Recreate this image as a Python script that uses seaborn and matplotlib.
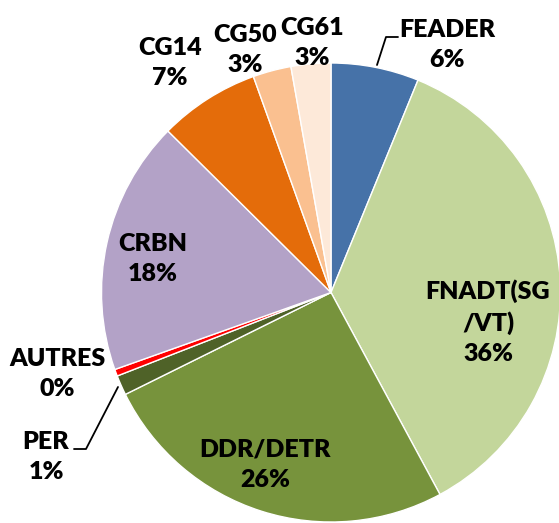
import matplotlib
matplotlib.use("Agg")
import matplotlib.pyplot as plt
import seaborn as sns

# data, clockwise from 12 o'clock
labels = ["FEADER", "FNADT(SG\n/VT)", "DDR/DETR", "PER", "AUTRES", "CRBN", "CG14", "CG50", "CG61"]
values = [6.2, 36.0, 25.6, 1.4, 0.48, 17.9, 7.1, 2.7, 2.8]
colors = ["#4672A8", "#C3D69B", "#77933C", "#4F6228", "#FF0000",
          "#B3A2C7", "#E46C0A", "#FAC090", "#FDE9D9"]

sns.set_theme(style="white")
plt.rcParams['font.family'] = ['Lato', 'DejaVu Sans']

W, H = 559, 523
cx, cy, r = 331, 292.5, 229.5

fig = plt.figure(figsize=(W / 100, H / 100), dpi=100)
ax = fig.add_axes([(cx - r) / W, (H - cy - r) / H, 2 * r / W, 2 * r / H])
ax.pie(values, colors=colors, startangle=90, counterclock=False, radius=1,
       wedgeprops=dict(edgecolor="white", linewidth=1.0))
ax.set_xlim(-1, 1)
ax.set_ylim(-1, 1)
ax.set_aspect("equal")
ax.axis("off")


def to_data(px, py):
    return (px - cx) / r, (cy - py) / r


# label centres in pixels
label_pos = [(447, 45), (488, 322), (265, 465), (46, 457), (57, 374),
             (153, 259), (170, 63), (245, 50), (312, 43)]

total = sum(values)
for lab, v, (px, py) in zip(labels, values, label_pos):
    x, y = to_data(px, py)
    ax.text(x, y, f"{lab}\n{round(v / total * 100)}%", ha="center", va="center",
            fontsize=18, fontweight="heavy", color="black", linespacing=1.45,
            clip_on=False)

# leader lines
for pts in [[(377, 65), (386, 37), (398, 37)], [(118, 387), (86, 449), (74, 449)]]:
    xs, ys = zip(*[to_data(px, py) for px, py in pts])
    ax.plot(xs, ys, color="black", linewidth=1.3, clip_on=False)

fig.savefig("out.png", dpi=100)
